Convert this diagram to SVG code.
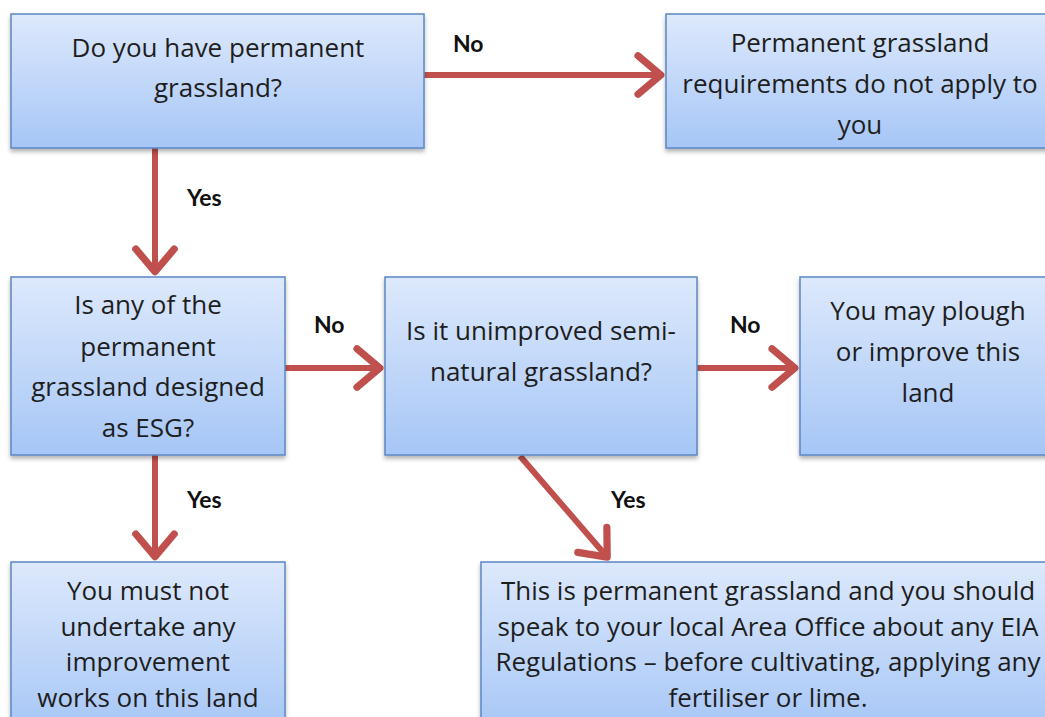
<svg xmlns="http://www.w3.org/2000/svg" width="1045" height="717" viewBox="0 0 1045 717">
<style>
.box{fill:url(#g);stroke:#5b87c4;stroke-width:1.5;filter:url(#sh)}
.t{font-family:"Open Sans","Liberation Sans",sans-serif;font-size:26px;fill:#1e1e1e;text-anchor:middle}
.l{font-family:Lato,"Liberation Sans",sans-serif;font-size:23px;font-weight:bold;fill:#111}
.c{stroke:#c0504d;stroke-width:6;fill:none;marker-end:url(#ah)}
</style>
<defs>
<linearGradient id="g" x1="0" y1="0" x2="0" y2="1">
<stop offset="0" stop-color="#dde9fc"/>
<stop offset="1" stop-color="#a6c6f6"/>
</linearGradient>
<filter id="sh" x="-10%" y="-10%" width="120%" height="130%">
<feDropShadow dx="0" dy="3" stdDeviation="2" flood-color="#000" flood-opacity="0.3"/>
</filter>
<marker id="ah" markerWidth="6" markerHeight="8" refX="5" refY="4" orient="auto" markerUnits="strokeWidth">
<path d="M1,0.8 L4.8,4 L1,7.2" fill="none" stroke="#c0504d" stroke-width="1.2" stroke-linecap="round" stroke-linejoin="round"/>
</marker>
</defs>
<rect width="1045" height="717" fill="#fff"/>
<g id="connectors">
<line class="c" x1="424" y1="75" x2="662" y2="75"/>
<line class="c" x1="155" y1="148" x2="155" y2="273"/>
<line class="c" x1="285" y1="368" x2="381" y2="368"/>
<line class="c" x1="697" y1="368" x2="796" y2="368"/>
<line class="c" x1="155" y1="455" x2="155" y2="558"/>
<line class="c" x1="520" y1="456" x2="608" y2="558"/>
<text class="l" x="453" y="52">No</text>
<text class="l" x="187" y="206">Yes</text>
<text class="l" x="314" y="333">No</text>
<text class="l" x="730" y="333">No</text>
<text class="l" x="187" y="508">Yes</text>
<text class="l" x="611" y="508">Yes</text>
</g>
<g id="n1">
<rect class="box" x="11" y="14" width="413" height="134"/>
<text class="t" x="218" y="57">Do you have permanent</text>
<text class="t" x="218" y="97">grassland?</text>
</g>
<g id="n2">
<rect class="box" x="666" y="14" width="390" height="134"/>
<text class="t" x="860" y="52">Permanent grassland</text>
<text class="t" x="860" y="93">requirements do not apply to</text>
<text class="t" x="860" y="134">you</text>
</g>
<g id="n3">
<rect class="box" x="11" y="277" width="274" height="178"/>
<text class="t" x="148" y="314">Is any of the</text>
<text class="t" x="148" y="356">permanent</text>
<text class="t" x="148" y="396">grassland designed</text>
<text class="t" x="148" y="437">as ESG?</text>
</g>
<g id="n4">
<rect class="box" x="385" y="277" width="312" height="178"/>
<text class="t" x="541" y="340">Is it unimproved semi-</text>
<text class="t" x="541" y="381">natural grassland?</text>
</g>
<g id="n5">
<rect class="box" x="800" y="277" width="256" height="178"/>
<text class="t" x="928" y="320">You may plough</text>
<text class="t" x="928" y="361">or improve this</text>
<text class="t" x="928" y="402">land</text>
</g>
<g id="n6">
<rect class="box" x="11" y="562" width="274" height="170"/>
<text class="t" x="148" y="600">You must not</text>
<text class="t" x="148" y="636">undertake any</text>
<text class="t" x="148" y="671">improvement</text>
<text class="t" x="148" y="707">works on this land</text>
</g>
<g id="n7">
<rect class="box" x="481" y="562" width="575" height="170"/>
<text class="t" x="768" y="600">This is permanent grassland and you should</text>
<text class="t" x="768" y="636">speak to your local Area Office about any EIA</text>
<text class="t" x="768" y="671">Regulations – before cultivating, applying any</text>
<text class="t" x="768" y="707">fertiliser or lime.</text>
</g>
</svg>
